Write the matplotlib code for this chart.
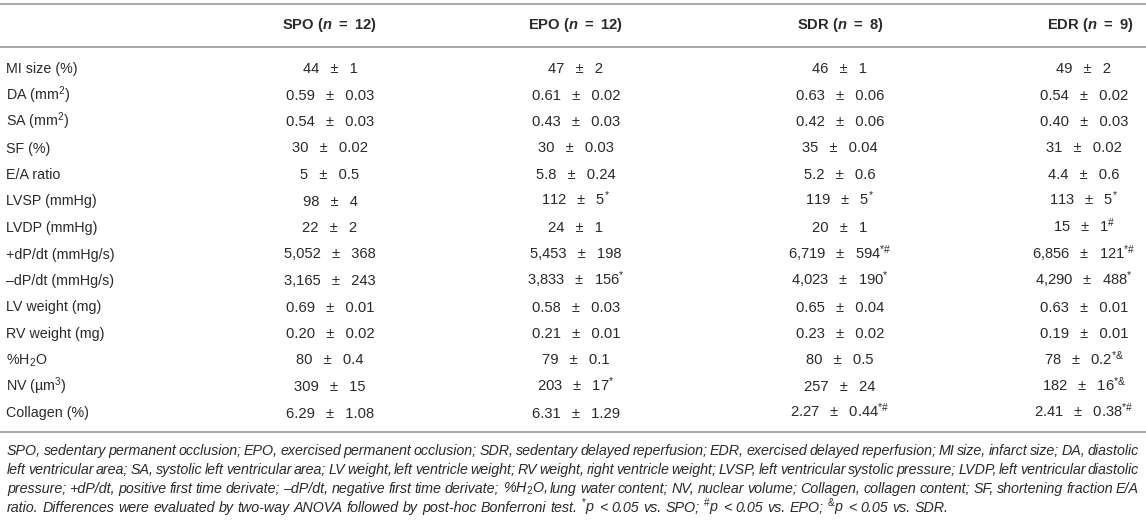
import matplotlib
matplotlib.use("Agg")
import matplotlib.pyplot as plt

plt.rcParams['font.family'] = ['Liberation Sans', 'DejaVu Sans']
plt.rcParams['mathtext.fontset'] = 'custom'
plt.rcParams['mathtext.rm'] = 'Liberation Sans'
plt.rcParams['mathtext.it'] = 'Liberation Sans:italic'
plt.rcParams['mathtext.bf'] = 'Liberation Sans:bold'
plt.rcParams['mathtext.bfit'] = 'Liberation Sans:bold:italic'

# ---------------- data ----------------
groups = ["SPO", "EPO", "SDR", "EDR"]
group_n = [12, 12, 8, 9]
row_labels = ["MI size (%)", "DA (mm$^2$)", "SA (mm$^2$)", "SF (%)", "E/A ratio",
              "LVSP (mmHg)", "LVDP (mmHg)", "+dP/dt (mmHg/s)", "\u2013dP/dt (mmHg/s)",
              "LV weight (mg)", "RV weight (mg)", "%H$_2$O", "NV (\u00b5m$^3$)", "Collagen (%)"]
spo_values = ["44 ± 1", "0.59 ± 0.03", "0.54 ± 0.03", "30 ± 0.02", "5 ± 0.5", "98 ± 4",
              "22 ± 2", "5,052 ± 368", "3,165 ± 243", "0.69 ± 0.01", "0.20 ± 0.02",
              "80 ± 0.4", "309 ± 15", "6.29 ± 1.08"]
spo_marks = ["", "", "", "", "", "", "", "", "", "", "", "", "", ""]
epo_values = ["47 ± 2", "0.61 ± 0.02", "0.43 ± 0.03", "30 ± 0.03", "5.8 ± 0.24", "112 ± 5",
              "24 ± 1", "5,453 ± 198", "3,833 ± 156", "0.58 ± 0.03", "0.21 ± 0.01",
              "79 ± 0.1", "203 ± 17", "6.31 ± 1.29"]
epo_marks = ["", "", "", "", "", "*", "", "", "*", "", "", "", "*", ""]
sdr_values = ["46 ± 1", "0.63 ± 0.06", "0.42 ± 0.06", "35 ± 0.04", "5.2 ± 0.6", "119 ± 5",
              "20 ± 1", "6,719 ± 594", "4,023 ± 190", "0.65 ± 0.04", "0.23 ± 0.02",
              "80 ± 0.5", "257 ± 24", "2.27 ± 0.44"]
sdr_marks = ["", "", "", "", "", "*", "", "*#", "*", "", "", "", "", "*#"]
edr_values = ["49 ± 2", "0.54 ± 0.02", "0.40 ± 0.03", "31 ± 0.02", "4.4 ± 0.6", "113 ± 5",
              "15 ± 1", "6,856 ± 121", "4,290 ± 488", "0.63 ± 0.01", "0.19 ± 0.01",
              "78 ± 0.2", "182 ± 16", "2.41 ± 0.38"]
edr_marks = ["", "", "", "", "", "*", "#", "*#", "*", "", "", "*&", "*&", "*#"]

footnote_lines = [
    "SPO, sedentary permanent occlusion; EPO, exercised permanent occlusion; SDR, sedentary delayed reperfusion; EDR, exercised delayed reperfusion; MI size, infarct size; DA, diastolic",
    "left ventricular area; SA, systolic left ventricular area; LV weight, left ventricle weight; RV weight, right ventricle weight; LVSP, left ventricular systolic pressure; LVDP, left ventricular diastolic",
    "pressure; +dP/dt, positive first time derivate; \u2013dP/dt, negative first time derivate; %H$_2$O, lung water content; NV, nuclear volume; Collagen, collagen content; SF, shortening fraction E/A",
    "ratio. Differences were evaluated by two-way ANOVA followed by post-hoc Bonferroni test. $^{*}$p < 0.05 vs. SPO; $^{\\#}$p < 0.05 vs. EPO; $^{&}$p < 0.05 vs. SDR.",
]

columns = [(spo_values, spo_marks), (epo_values, epo_marks),
           (sdr_values, sdr_marks), (edr_values, edr_marks)]

# ---------------- layout ----------------
W, H = 1146, 521
fig = plt.figure(figsize=(W / 100, H / 100), dpi=100)
ax = fig.add_axes([0, 0, 1, 1])
ax.set_xlim(0, W)
ax.set_ylim(H, 0)
ax.axis('off')

TXT = '#2a2a2a'
LINE = '#a9a9a9'
FS = 10.3
FS_VAL = 10.6
FS_HEAD = 10.6
PM_SPACE = "\u2002\u2005"
col_x = [330, 576, 840, 1084]
header_x = [330, 576, 840, 1090]
label_x = 6
row_y0, row_dy = 68, 26.5
base_off = 5.0

for yl in (4, 46.5, 432):
    ax.plot([0, W], [yl, yl], color=LINE, lw=1.4, solid_capstyle='butt')

# header
for g, n, x in zip(groups, group_n, header_x):
    ax.text(x, 24 + base_off, g + r" ($\mathbfit{n}$" + "\u2002=\u2002" + str(n) + ")",
            ha='center', va='baseline', fontsize=FS_HEAD, weight='bold', color=TXT)

def fmt_value(v, m):
    s = v.replace(" ± ", PM_SPACE + "±" + PM_SPACE)
    if m:
        s += "$^{" + m.replace("#", r"\#") + "}$"
    return s

for i, lab in enumerate(row_labels):
    y = row_y0 + i * row_dy + base_off
    ax.text(label_x, y, lab, ha='left', va='baseline', fontsize=FS, color=TXT)
    for (vals, marks), x in zip(columns, col_x):
        ax.text(x, y, fmt_value(vals[i], marks[i]), ha='center', va='baseline',
                fontsize=FS_VAL, color=TXT)

# footnote (justified)
fig.canvas.draw()
renderer = fig.canvas.get_renderer()
left, right = 7, 1139
fn_y0, fn_dy = 450, 19
for li, line in enumerate(footnote_lines):
    y = fn_y0 + li * fn_dy + base_off
    words = line.split(" ")
    texts = []
    widths = []
    for w in words:
        t = ax.text(0, y, w, ha='left', va='baseline', fontsize=FS, style='italic', color=TXT)
        bb = t.get_window_extent(renderer)
        texts.append(t)
        widths.append(bb.width)
    sp = ax.text(0, y, "a a", fontsize=FS, style='italic')
    sa = ax.text(0, y, "aa", fontsize=FS, style='italic')
    space_w = sp.get_window_extent(renderer).width - sa.get_window_extent(renderer).width
    sp.remove(); sa.remove()
    total = sum(widths)
    if li < len(footnote_lines) - 1 and len(words) > 1:
        gap = (right - left - total) / (len(words) - 1)
    else:
        gap = space_w
    x = left
    for t, wd in zip(texts, widths):
        t.set_x(x)
        x += wd + gap

fig.savefig("out.png", dpi=100)
